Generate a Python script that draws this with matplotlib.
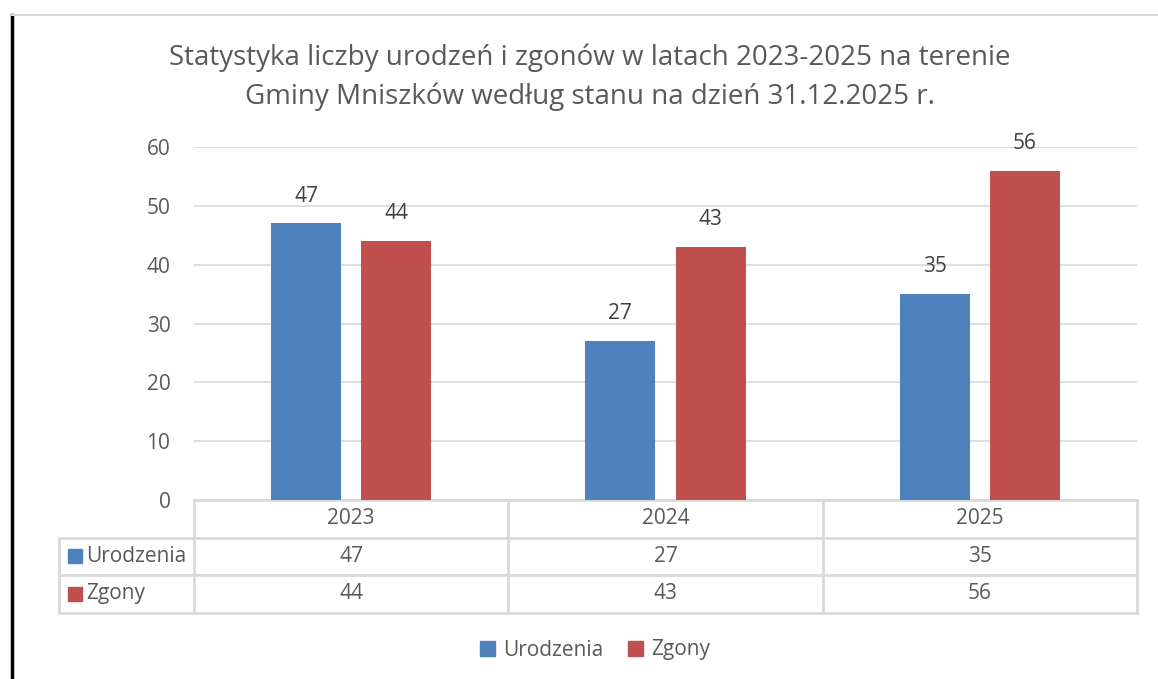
import numpy as np
import matplotlib
import matplotlib.pyplot as plt
from matplotlib.patches import Rectangle
from matplotlib.lines import Line2D
import matplotlib.transforms as mtransforms

matplotlib.rcParams['font.family'] = ['Open Sans', 'DejaVu Sans']
matplotlib.rcParams['font.size'] = 15

# data
years = ['2023', '2024', '2025']
series = ['Urodzenia', 'Zgony']
urodzenia = [47, 27, 35]
zgony = [44, 43, 56]
colors = ['#4F81BD', '#C0504D']
yticks = [0, 10, 20, 30, 40, 50, 60]

W, H = 1158, 679
text_c = '#595959'
line_c = '#D9D9D9'


def fx(px):
    return px / W


def fy(px):
    return 1 - px / H


fig = plt.figure(figsize=(W / 100, H / 100), dpi=100)
ax = fig.add_axes([fx(194), fy(500), fx(1137) - fx(194), fy(147) - fy(500)])

x = np.arange(len(years))
barWidth = 0.223
offset = 0.1435
vals = [urodzenia, zgony]
for i in range(len(series)):
    pos = x + (i * 2 - 1) * offset
    ax.bar(pos, vals[i], width=barWidth, color=colors[i], zorder=3)
    for p, v in zip(pos, vals[i]):
        ax.annotate(str(v), (p, v), xytext=(0, 12), textcoords='offset points',
                    ha='center', va='bottom', color='#404040', fontsize=15)

ax.set_xlim(-0.5, len(years) - 0.5)
ax.set_ylim(0, 60)
ax.set_yticks(yticks)
ax.set_xticks([])
ax.grid(axis='y', color=line_c, linewidth=1.2, zorder=0)
for s in ax.spines.values():
    s.set_visible(False)
ax.tick_params(axis='y', length=0, pad=17, colors=text_c, labelsize=15)

# data table under the chart
tr = mtransforms.blended_transform_factory(ax.transData, fig.transFigure)
rows = [500, 537.5, 575, 612.5]
lw = 2
for r in rows:
    if r == rows[0]:
        ax.add_line(Line2D([-0.5, len(years) - 0.5], [fy(r), fy(r)], transform=tr,
                           color=line_c, lw=lw, clip_on=False))
    else:
        fig.add_artist(Line2D([fx(59), fx(1137)], [fy(r), fy(r)],
                              color=line_c, lw=lw))
for k in range(len(years) + 1):
    ax.add_line(Line2D([k - 0.5, k - 0.5], [fy(rows[0]), fy(rows[-1])], transform=tr,
                       color=line_c, lw=lw, clip_on=False))
fig.add_artist(Line2D([fx(59), fx(59)], [fy(rows[1]), fy(rows[-1])],
                      color=line_c, lw=lw))

for k, yr in enumerate(years):
    ax.text(k, fy((rows[0] + rows[1]) / 2), yr, transform=tr, ha='center',
            va='center', color=text_c, fontsize=15)
    for i in range(len(series)):
        ax.text(k, fy((rows[i + 1] + rows[i + 2]) / 2), str(vals[i][k]), transform=tr,
                ha='center', va='center', color=text_c, fontsize=15)

for i, name in enumerate(series):
    yc = (rows[i + 1] + rows[i + 2]) / 2
    fig.add_artist(Rectangle((fx(68), fy(yc + 7)), fx(14), 14 / H,
                             color=colors[i], transform=fig.transFigure))
    fig.text(fx(86), fy(yc), name, ha='left', va='center', color=text_c, fontsize=15)

# legend
handles = [Rectangle((0, 0), 1, 1, color=c) for c in colors]
fig.legend(handles, series, loc='center', bbox_to_anchor=(fx(595), fy(650)),
           ncol=2, frameon=False, handlelength=0.7, handleheight=0.7,
           handletextpad=0.4, columnspacing=1.2, labelcolor=text_c, fontsize=15)

# title
fig.text(fx(590), fy(77), 'Statystyka liczby urodzeń i zgonów w latach 2023-2025 na terenie\n'
         'Gminy Mniszków według stanu na dzień 31.12.2025 r.',
         ha='center', va='center', color=text_c, fontsize=20, linespacing=1.5)

# frame edges
fig.add_artist(Line2D([fx(12), fx(12)], [fy(15), 0], color='black', lw=2.5))
fig.add_artist(Line2D([fx(12), 1], [fy(15), fy(15)], color=line_c, lw=1.5))

fig.savefig('out.png', dpi=100)
